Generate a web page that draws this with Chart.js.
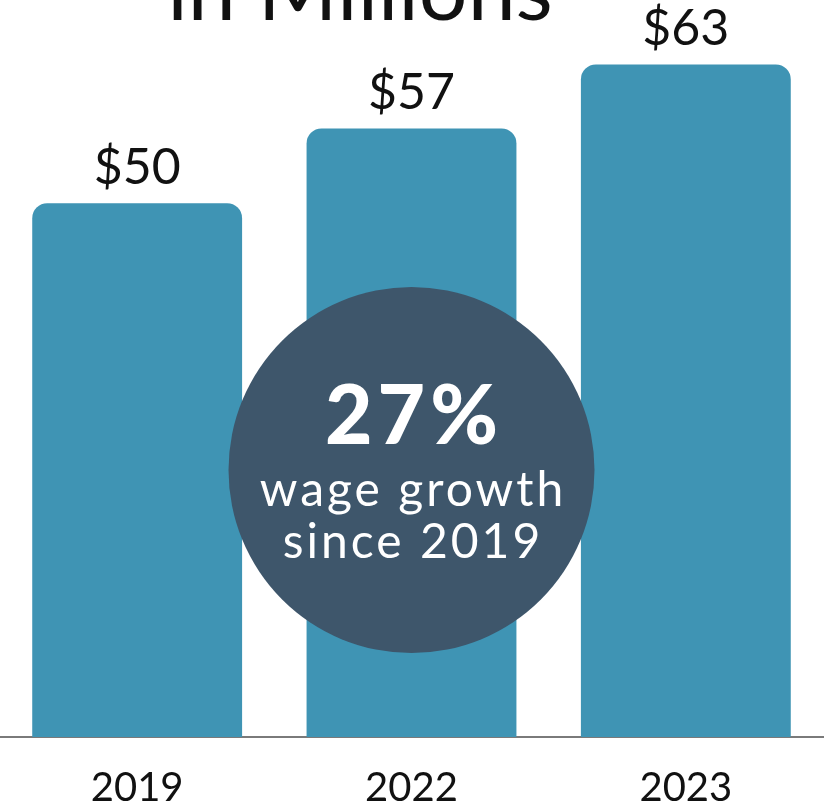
<!DOCTYPE html>
<html>
<head>
<meta charset="utf-8">
<script src="https://cdn.jsdelivr.net/npm/chart.js@4.4.1/dist/chart.umd.min.js"></script>
<style>
  html, body { margin: 0; padding: 0; background: #ffffff; }
  #wrap { width: 825px; height: 808px; position: relative; }
</style>
</head>
<body>
<div id="wrap"><canvas id="chart" width="825" height="808"></canvas></div>
<script>
// Total wages by year, in millions of dollars
const years = ['2019', '2022', '2023'];
const wages = [50, 57, 63];
const titleText = 'in Millions';
const badgeFigure = '27%';
const badgeLines = ['wage growth', 'since 2019'];

const BAR_COLOR = '#3f94b4';
const BADGE_COLOR = '#3e566b';

// Centered text with extra tracking (letterSpacing also pads the last glyph)
function spacedText(ctx, text, x, y, spacing) {
  ctx.letterSpacing = spacing + 'px';
  ctx.fillText(text, x + spacing / 2, y);
  ctx.letterSpacing = '0px';
}

// "$NN" above each bar, placed from the bar elements
const valueLabels = {
  id: 'valueLabels',
  afterDatasetsDraw(chart) {
    const ctx = chart.ctx;
    const meta = chart.getDatasetMeta(0);
    ctx.save();
    ctx.fillStyle = '#111111';
    ctx.font = '50px Lato, sans-serif';
    ctx.textAlign = 'center';
    ctx.textBaseline = 'alphabetic';
    meta.data.forEach((bar, i) => {
      ctx.fillText('$' + wages[i], bar.x, bar.y - 19);
    });
    ctx.restore();
  }
};

// Heading (partly above the canvas edge)
const heading = {
  id: 'heading',
  afterDraw(chart) {
    const ctx = chart.ctx;
    ctx.save();
    ctx.fillStyle = '#111111';
    ctx.font = '86px Lato, sans-serif';
    ctx.textAlign = 'center';
    ctx.textBaseline = 'alphabetic';
    ctx.fillText(titleText, 360, 20);
    ctx.restore();
  }
};

// Round callout with the growth figure, centred over the middle bar
const badge = {
  id: 'badge',
  afterDatasetsDraw(chart) {
    const ctx = chart.ctx;
    const area = chart.chartArea;
    const yScale = chart.scales.y;
    const cx = (area.left + area.right) / 2;
    const cy = yScale.getPixelForValue(25);
    const r = 183;
    ctx.save();
    ctx.beginPath();
    ctx.arc(cx, cy, r, 0, Math.PI * 2);
    ctx.fillStyle = BADGE_COLOR;
    ctx.fill();
    ctx.fillStyle = '#ffffff';
    ctx.textAlign = 'center';
    ctx.textBaseline = 'alphabetic';
    ctx.font = '900 82px Lato, sans-serif';
    spacedText(ctx, badgeFigure, cx, cy - 26, 5);
    ctx.font = '48px Lato, sans-serif';
    spacedText(ctx, badgeLines[0], cx, cy + 36, 3);
    spacedText(ctx, badgeLines[1], cx, cy + 88, 3);
    ctx.restore();
  }
};

new Chart(document.getElementById('chart'), {
  type: 'bar',
  data: {
    labels: years,
    datasets: [{
      data: wages,
      backgroundColor: BAR_COLOR,
      borderWidth: 0,
      borderRadius: { topLeft: 15, topRight: 15, bottomLeft: 0, bottomRight: 0 },
      borderSkipped: 'bottom',
      categoryPercentage: 1.0,
      barPercentage: 0.765
    }]
  },
  options: {
    responsive: false,
    animation: false,
    layout: { padding: { top: 11, left: 0, right: 2, bottom: 0 } },
    plugins: {
      legend: { display: false },
      title: { display: false },
      tooltip: { enabled: false }
    },
    scales: {
      x: {
        grid: { display: false, drawTicks: false },
        border: { display: true, color: '#7a7a7a', width: 2 },
        ticks: {
          color: '#111111',
          padding: 27,
          font: { family: 'Lato, sans-serif', size: 40 }
        },
        afterFit(scale) { scale.height = 71; }
      },
      y: {
        display: false,
        min: 0,
        max: 68
      }
    }
  },
  plugins: [valueLabels, badge, heading]
});
</script>
</body>
</html>
